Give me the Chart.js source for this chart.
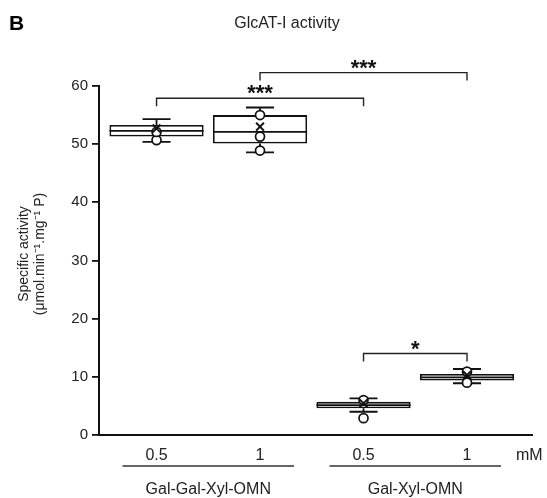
<!DOCTYPE html>
<html>
<head>
<meta charset="utf-8">
<script src="https://cdn.jsdelivr.net/npm/chart.js@4.4.1/dist/chart.umd.min.js"></script>
<style>
  html, body { margin: 0; padding: 0; background: #fff; }
</style>
</head>
<body>
<canvas id="myChart" width="547" height="498"></canvas>
<script>
// values
const doseLabels = ['0.5', '1', '0.5', '1'];
const substrates = ['Gal-Gal-Xyl-OMN', 'Gal-Xyl-OMN'];
const xPositions = [1, 2, 3, 4];
const whiskerLow = [50.4, 48.6, 4.0, 8.9];
const q1 = [51.3, 50.1, 4.6, 9.35];
const medians = [52.3, 52.1, 5.15, 9.9];
const q3 = [53.3, 55.0, 5.7, 10.5];
const whiskerHigh = [54.3, 56.3, 6.3, 11.35];
const means = [52.7, 53.0, 5.45, 10.3];
const points = [[50.7, 52.1], [55.0, 51.3, 48.9], [2.9, 6.0], [9.0, 10.9]];
const bracketFrom = [1, 2, 3];
const bracketTo = [3, 4, 4];
const bracketLevel = [57.9, 62.3, 14.0];
const bracketMarks = ['***', '***', '*'];

const FONT = "'Liberation Sans', Arial, Helvetica, sans-serif";

const boxDecor = {
    id: 'boxDecor',
    afterDatasetDraw(chart, args) {
        if (args.index !== 0) return;
        const { ctx, scales: { x, y } } = chart;
        ctx.save();
        ctx.strokeStyle = '#111';
        ctx.lineWidth = 1.8;
        args.meta.data.forEach((bar, i) => {
            const cx = x.getPixelForValue(xPositions[i]);
            const half = bar.width / 2;
            const cap = 14;
            const ym = y.getPixelForValue(medians[i]);
            const yHi = y.getPixelForValue(whiskerHigh[i]);
            const yLo = y.getPixelForValue(whiskerLow[i]);
            ctx.beginPath();
            ctx.moveTo(cx - half, ym); ctx.lineTo(cx + half, ym);
            ctx.moveTo(cx, y.getPixelForValue(q3[i])); ctx.lineTo(cx, yHi);
            ctx.moveTo(cx - cap, yHi); ctx.lineTo(cx + cap, yHi);
            ctx.moveTo(cx, y.getPixelForValue(q1[i])); ctx.lineTo(cx, yLo);
            ctx.moveTo(cx - cap, yLo); ctx.lineTo(cx + cap, yLo);
            ctx.stroke();
        });
        ctx.restore();
    },
    afterDraw(chart) {
        const { ctx, scales: { x, y } } = chart;
        ctx.save();

        // significance brackets
        ctx.strokeStyle = '#222';
        ctx.lineWidth = 1.4;
        ctx.fillStyle = '#111';
        ctx.textAlign = 'center';
        ctx.textBaseline = 'alphabetic';
        bracketFrom.forEach((from, i) => {
            const x1 = x.getPixelForValue(from);
            const x2 = x.getPixelForValue(bracketTo[i]);
            const yl = y.getPixelForValue(bracketLevel[i]);
            ctx.beginPath();
            ctx.moveTo(x1, yl + 8); ctx.lineTo(x1, yl); ctx.lineTo(x2, yl); ctx.lineTo(x2, yl + 8);
            ctx.stroke();
            ctx.font = 'bold 22px ' + FONT;
            ctx.fillText(bracketMarks[i], (x1 + x2) / 2, yl + 2);
        });

        // title and panel letter
        ctx.fillStyle = '#222';
        ctx.font = '16px ' + FONT;
        ctx.fillText('GlcAT-I activity', 287, 28);
        ctx.textAlign = 'left';
        ctx.fillStyle = '#000';
        ctx.font = 'bold 21px ' + FONT;
        ctx.fillText('B', 9, 30);

        // unit and substrate groups under the axis
        ctx.fillStyle = '#222';
        ctx.font = '16px ' + FONT;
        ctx.fillText('mM', 516, 460);
        ctx.strokeStyle = '#333';
        ctx.lineWidth = 1.4;
        ctx.textAlign = 'center';
        substrates.forEach((name, g) => {
            const xa = x.getPixelForValue(xPositions[g * 2]) - 34;
            const xb = x.getPixelForValue(xPositions[g * 2 + 1]) + 34;
            ctx.beginPath();
            ctx.moveTo(xa, 466); ctx.lineTo(xb, 466);
            ctx.stroke();
            ctx.fillText(name, (xa + xb) / 2, 494);
        });

        // y axis title, two lines
        ctx.font = '14px ' + FONT;
        ctx.textBaseline = 'middle';
        [['Specific activity', 24], ['(\u03bcmol.min\u207b\u00b9.mg\u207b\u00b9 P)', 40]].forEach(([txt, tx]) => {
            ctx.save();
            ctx.translate(tx, 254);
            ctx.rotate(-Math.PI / 2);
            ctx.fillText(txt, 0, 0);
            ctx.restore();
        });
        ctx.restore();
    }
};

const boxData = xPositions.map((v, i) => ({ x: v, y: [q1[i], q3[i]] }));
const pointData = [];
points.forEach((list, i) => list.forEach(v => pointData.push({ x: xPositions[i], y: v })));
const meanData = xPositions.map((v, i) => ({ x: v, y: means[i] }));

const ctx = document.getElementById('myChart');
new Chart(ctx, {
    type: 'bar',
    data: {
        datasets: [{
            label: 'IQR',
            data: boxData,
            backgroundColor: '#fff',
            borderColor: '#111',
            borderWidth: 1.8,
            borderSkipped: false,
            categoryPercentage: 1,
            barPercentage: 0.91,
            order: 3
        }, {
            type: 'scatter',
            label: 'values',
            data: pointData,
            pointStyle: 'circle',
            pointRadius: 4.5,
            backgroundColor: '#fff',
            borderColor: '#111',
            borderWidth: 1.7,
            order: 2
        }, {
            type: 'scatter',
            label: 'mean',
            data: meanData,
            pointStyle: 'crossRot',
            pointRadius: 5.5,
            borderColor: '#111',
            borderWidth: 2,
            order: 1
        }]
    },
    plugins: [boxDecor],
    options: {
        responsive: false,
        animation: false,
        layout: { padding: { top: 86, right: 15, left: 0, bottom: 23 } },
        plugins: {
            legend: { display: false },
            tooltip: { enabled: false }
        },
        scales: {
            x: {
                type: 'linear',
                min: 0.444,
                max: 4.628,
                offset: false,
                afterBuildTicks: axis => {
                    axis.ticks = xPositions.map(v => ({ value: v }));
                },
                afterFit: axis => { axis.height = 40; },
                grid: { display: false, drawTicks: false },
                border: { display: true, color: '#111', width: 2 },
                ticks: {
                    padding: 11,
                    color: '#222',
                    font: { family: FONT, size: 16 },
                    maxRotation: 0,
                    callback: (value, index) => doseLabels[index]
                }
            },
            y: {
                min: 0,
                max: 60,
                afterFit: axis => { axis.width = 99; },
                grid: { drawOnChartArea: false, drawTicks: true, tickLength: 7, color: '#111', lineWidth: 1.8 },
                border: { display: true, color: '#111', width: 2 },
                ticks: {
                    stepSize: 10,
                    padding: 4,
                    color: '#222',
                    font: { family: FONT, size: 15 }
                }
            }
        }
    }
});
</script>
</body>
</html>
